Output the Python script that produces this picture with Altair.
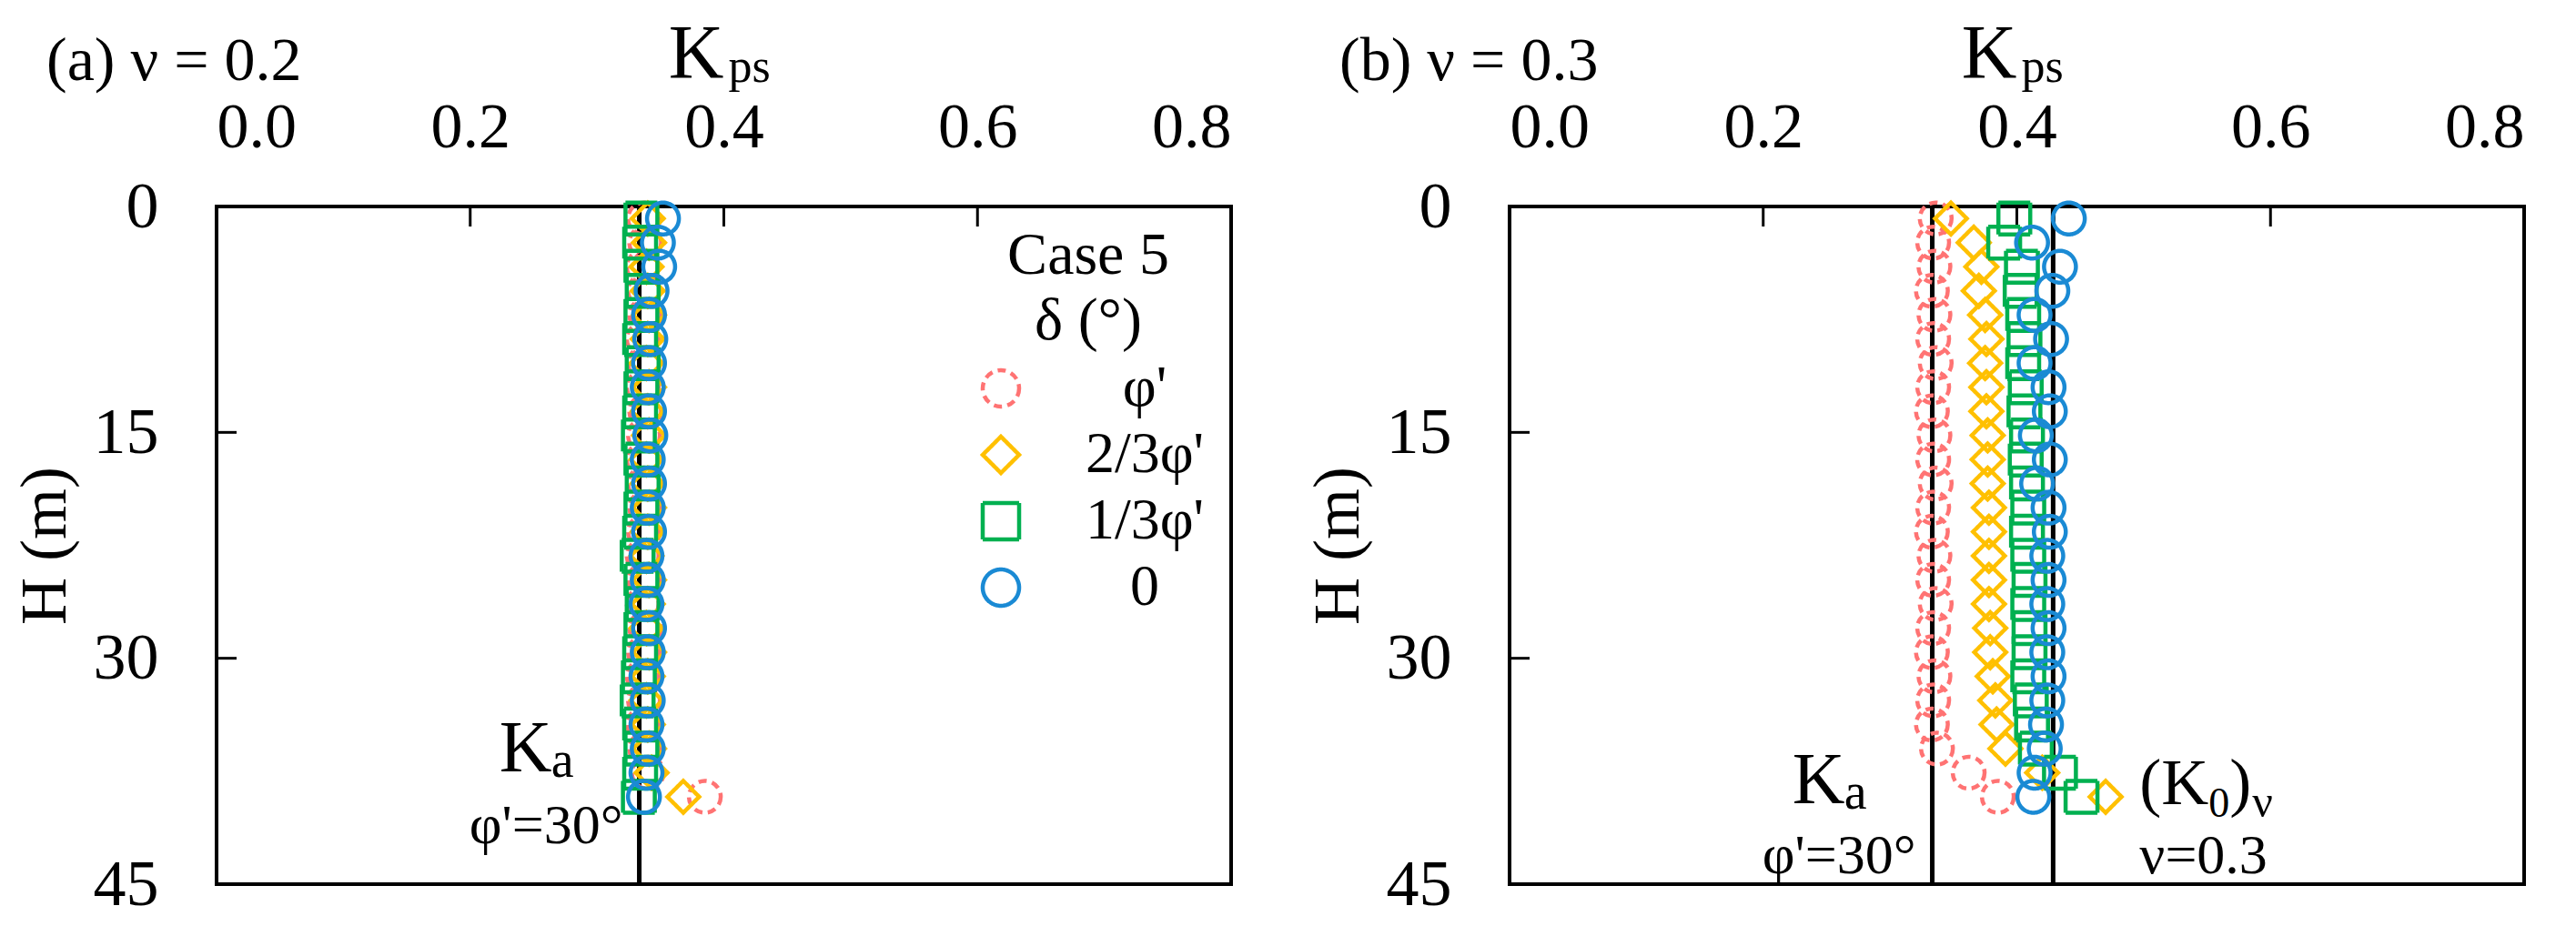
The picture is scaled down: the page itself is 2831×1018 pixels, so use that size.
import altair as alt
import pandas as pd

FONT = "Liberation Serif"

SERIES = ["φ'", "2/3φ'", "1/3φ'", "0"]
COLORS = ["#FF7373", "#FFC000", "#00B050", "#1A8AD4"]
SHAPES = ["circle", "diamond", "square", "circle"]
DASHES = [[9, 6], [1, 0], [1, 0], [1, 0]]

DEPTH = [0.8, 2.4, 4.0, 5.6, 7.2, 8.8, 10.4, 12.0, 13.6, 15.2, 16.8, 18.4, 20.0,
         21.6, 23.2, 24.8, 26.4, 28.0, 29.6, 31.2, 32.8, 34.4, 36.0, 37.6, 39.2]

# panel (a) nu = 0.2
A_PHI = [0.337, 0.338, 0.336, 0.337, 0.338, 0.336, 0.337, 0.336, 0.338, 0.337, 0.336, 0.337, 0.338,
         0.337, 0.336, 0.337, 0.336, 0.338, 0.337, 0.336, 0.337, 0.336, 0.338, 0.340, 0.385]
A_23 = [0.340, 0.341, 0.339, 0.340, 0.341, 0.340, 0.339, 0.341, 0.340, 0.341, 0.339, 0.340, 0.341,
        0.340, 0.339, 0.341, 0.340, 0.339, 0.341, 0.340, 0.339, 0.340, 0.341, 0.343, 0.368]
A_13 = [0.335, 0.334, 0.335, 0.336, 0.335, 0.334, 0.336, 0.335, 0.334, 0.333, 0.335, 0.336, 0.335,
        0.334, 0.332, 0.335, 0.336, 0.335, 0.334, 0.333, 0.332, 0.334, 0.335, 0.334, 0.333]
A_0 = [0.352, 0.348, 0.349, 0.343, 0.341, 0.342, 0.341, 0.340, 0.341, 0.342, 0.340, 0.341, 0.340,
       0.341, 0.339, 0.340, 0.339, 0.341, 0.340, 0.339, 0.340, 0.339, 0.340, 0.339, 0.337]

# panel (b) nu = 0.3
B_PHI = [0.336, 0.334, 0.335, 0.333, 0.335, 0.334, 0.336, 0.334, 0.333, 0.335, 0.334, 0.336, 0.334,
         0.333, 0.335, 0.334, 0.336, 0.334, 0.333, 0.335, 0.334, 0.333, 0.337, 0.362, 0.385]
B_23 = [0.348, 0.366, 0.372, 0.370, 0.375, 0.376, 0.375, 0.376, 0.376, 0.377, 0.377, 0.377, 0.378,
        0.378, 0.378, 0.378, 0.378, 0.379, 0.379, 0.381, 0.383, 0.384, 0.391, 0.420, 0.470]
B_13 = [0.398, 0.390, 0.404, 0.403, 0.405, 0.406, 0.405, 0.407, 0.406, 0.408, 0.407, 0.408, 0.409,
        0.408, 0.409, 0.410, 0.409, 0.410, 0.410, 0.409, 0.411, 0.412, 0.415, 0.434, 0.451]
B_0 = [0.441, 0.412, 0.434, 0.428, 0.414, 0.427, 0.414, 0.425, 0.426, 0.415, 0.426, 0.416, 0.425,
       0.426, 0.424, 0.425, 0.424, 0.425, 0.424, 0.425, 0.424, 0.423, 0.422, 0.414, 0.413]

KA = 0.3333
K0 = 0.4286
X_TICKS = [0.0, 0.2, 0.4, 0.6, 0.8]
Y_TICKS = [0, 15, 30, 45]

W, H = 1115, 745

xs = alt.Scale(domain=[0, 0.8], nice=False, zero=False)
ys = alt.Scale(domain=[0, 45], reverse=True, nice=False, zero=False)

legend = alt.Legend(
    title=["Case 5", "δ (°)"], orient="none", legendX=830, legendY=22, padding=0,
    titleFont=FONT, titleFontSize=66, titleFontWeight="normal", titleColor="black",
    titleAnchor="middle", titleAlign="center", titleLineHeight=72, titlePadding=8,
    labelFont=FONT, labelFontSize=64, labelColor="black", labelAlign="center",
    labelOffset=126, symbolSize=1600, symbolStrokeWidth=4.5, rowPadding=9,
    symbolFillColor="transparent",
)


def panel(vals, title, lines, show_legend):
    rows = []
    order = 0
    for s, v in zip(SERIES, vals):
        for d, k in zip(DEPTH, v):
            rows.append({"series": s, "h": d, "k": k, "ord": order})
            order += 1
    df = pd.DataFrame(rows)

    pts = alt.Chart(df).mark_point(filled=False, size=1225, strokeWidth=4.5, opacity=1).encode(
        x=alt.X("k:Q", scale=xs, axis=alt.Axis(
            orient="top", values=X_TICKS, format=".1f", title=None, grid=False, domain=False,
            ticks=False, labelFont=FONT, labelFontSize=70, labelColor="black", labelPadding=51)),
        y=alt.Y("h:Q", scale=ys, axis=alt.Axis(
            values=Y_TICKS, title="H (m)", grid=False, domain=False, ticks=False,
            labelFont=FONT, labelFontSize=72, labelColor="black", labelPadding=64,
            titleFont=FONT, titleFontSize=72, titleFontWeight="normal", titleColor="black",
            titlePadding=16)),
        color=alt.Color("series:N", scale=alt.Scale(domain=SERIES, range=COLORS),
                        legend=legend if show_legend else None),
        shape=alt.Shape("series:N", scale=alt.Scale(domain=SERIES, range=SHAPES),
                        legend=legend if show_legend else None),
        strokeDash=alt.StrokeDash("series:N", scale=alt.Scale(domain=SERIES, range=DASHES),
                                  legend=legend if show_legend else None),
        order=alt.Order("ord:Q"),
    )

    ref = alt.Chart(pd.DataFrame({"k": lines})).mark_rule(color="black", strokeWidth=5).encode(
        x=alt.X("k:Q", scale=xs))

    xt = alt.Chart(pd.DataFrame({"k": X_TICKS})).mark_rule(color="black", strokeWidth=3).encode(
        x=alt.X("k:Q", scale=xs), y=alt.value(0), y2=alt.value(22))
    yt = alt.Chart(pd.DataFrame({"h": Y_TICKS})).mark_rule(color="black", strokeWidth=3).encode(
        y=alt.Y("h:Q", scale=ys), x=alt.value(0), x2=alt.value(22))

    ttl = alt.Chart(pd.DataFrame({"t": [title]})).mark_text(
        font=FONT, fontSize=68, align="left", baseline="alphabetic", color="black").encode(
        text="t:N", x=alt.value(-187), y=alt.value(-139))

    kbig = alt.Chart(pd.DataFrame({"t": ["K"], "k": [0.4]})).mark_text(
        font=FONT, fontSize=84, align="right", baseline="alphabetic", color="black").encode(
        text="t:N", x=alt.X("k:Q", scale=xs), y=alt.value(-141))
    ksub = alt.Chart(pd.DataFrame({"t": ["ps"], "k": [0.4]})).mark_text(
        font=FONT, fontSize=52, align="left", baseline="alphabetic", color="black", dx=5).encode(
        text="t:N", x=alt.X("k:Q", scale=xs), y=alt.value(-137))

    layers = [ref, xt, yt, pts, ttl, kbig, ksub]
    return layers


def ka_label(ky, ky2):
    big = alt.Chart(pd.DataFrame({"t": ["K"], "k": [KA], "h": [ky]})).mark_text(
        font=FONT, fontSize=80, align="right", baseline="alphabetic", color="black", dx=-96).encode(
        text="t:N", x=alt.X("k:Q", scale=xs), y=alt.Y("h:Q", scale=ys))
    sub = alt.Chart(pd.DataFrame({"t": ["a"], "k": [KA], "h": [ky + 0.4]})).mark_text(
        font=FONT, fontSize=56, align="right", baseline="alphabetic", color="black", dx=-72).encode(
        text="t:N", x=alt.X("k:Q", scale=xs), y=alt.Y("h:Q", scale=ys))
    phi = alt.Chart(pd.DataFrame({"t": ["φ'=30°"], "k": [KA], "h": [ky2]})).mark_text(
        font=FONT, fontSize=62, align="right", baseline="alphabetic", color="black", dx=-18).encode(
        text="t:N", x=alt.X("k:Q", scale=xs), y=alt.Y("h:Q", scale=ys))
    return [big, sub, phi]


def k0_label():
    out = []
    parts = [("(K", 72, 0, 0.0), ("0", 46, 76, 0.8), (")", 72, 99, 0.0), ("ν", 50, 124, 0.8)]
    for t, fs, off, dy in parts:
        out.append(alt.Chart(pd.DataFrame({"t": [t], "k": [K0], "h": [39.7 + dy]})).mark_text(
            font=FONT, fontSize=fs, align="left", baseline="alphabetic", color="black",
            dx=95 + off).encode(text="t:N", x=alt.X("k:Q", scale=xs), y=alt.Y("h:Q", scale=ys)))
    out.append(alt.Chart(pd.DataFrame({"t": ["ν=0.3"], "k": [K0], "h": [44.3]})).mark_text(
        font=FONT, fontSize=62, align="left", baseline="alphabetic", color="black", dx=95).encode(
        text="t:N", x=alt.X("k:Q", scale=xs), y=alt.Y("h:Q", scale=ys)))
    return out


pa = alt.layer(*panel([A_PHI, A_23, A_13, A_0], "(a) ν = 0.2", [KA], True),
               *ka_label(37.5, 42.3)).properties(width=W, height=H)
pb = alt.layer(*panel([B_PHI, B_23, B_13, B_0], "(b) ν = 0.3", [KA, K0], True),
               *ka_label(39.6, 44.3), *k0_label()).properties(width=W, height=H)

chart = alt.hconcat(pa, pb, spacing=306, bounds="flush").properties(
    padding={"left": 3, "top": 9, "right": 5, "bottom": 5}
).configure(background="white").configure_view(stroke="black", strokeWidth=4)

chart.save("out.html", embed_options={"renderer": "svg", "actions": False})
